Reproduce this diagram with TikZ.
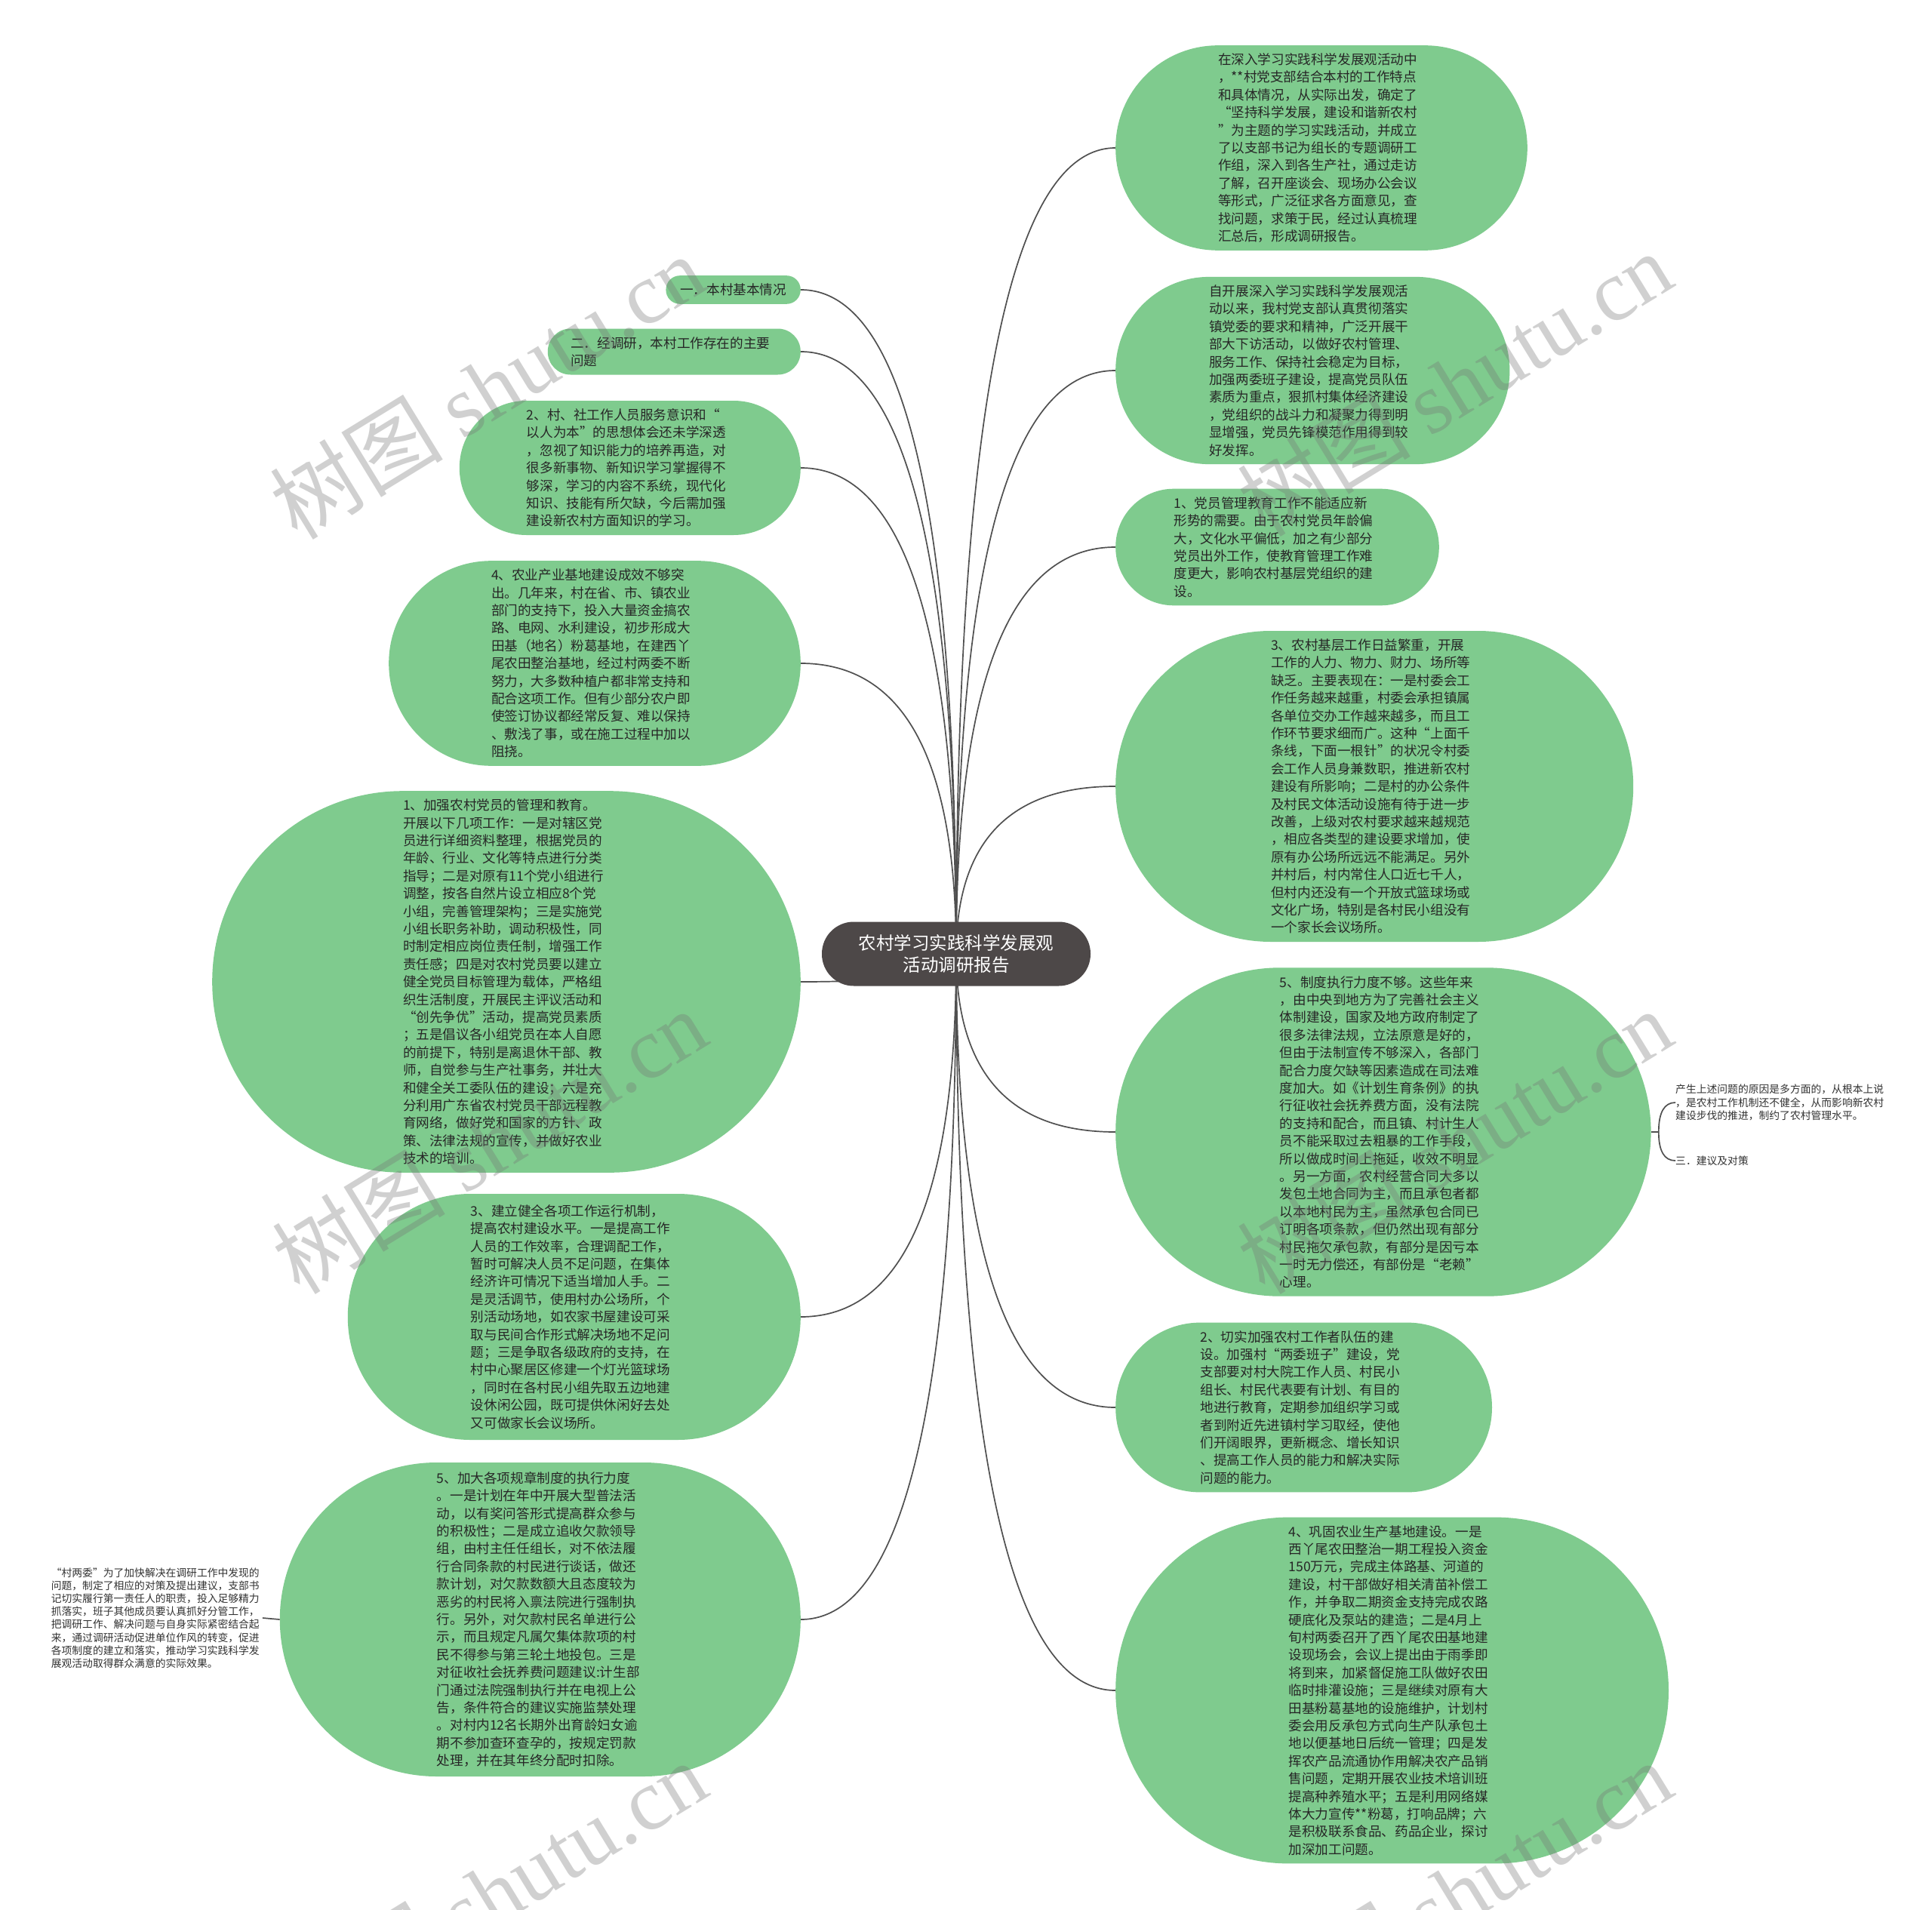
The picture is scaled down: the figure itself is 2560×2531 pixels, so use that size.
\documentclass[tikz,border=0pt]{standalone}
\usepackage{fontspec}
\setmainfont{Noto Sans CJK SC}
\newfontfamily\cjk{Noto Sans CJK SC}
\newfontfamily\wmserif{Liberation Serif}
\usetikzlibrary{calc,backgrounds}
\definecolor{nodegreen}{RGB}{127,203,142}
\definecolor{rootgray}{RGB}{77,72,72}
\definecolor{linegray}{RGB}{80,80,80}
\definecolor{txt}{RGB}{38,38,38}
\definecolor{notetxt}{RGB}{50,50,50}
\tikzset{
  leaf/.style={rectangle, fill=nodegreen, draw=none, rounded corners=#1pt-0.3pt,
    inner xsep=#1pt, inner ysep=0pt, minimum height=2*#1pt,
    text=txt, font=\cjk\fontsize{17.6}{23.4}\selectfont, align=left, text width=274pt},
  leafnat/.style={rectangle, fill=nodegreen, draw=none, rounded corners=#1pt-0.3pt,
    inner xsep=#1pt, inner ysep=0pt, minimum height=2*#1pt,
    text=txt, font=\cjk\fontsize{17.6}{23.4}\selectfont, align=left},
  rootnode/.style={rectangle, fill=rootgray, draw=none, rounded corners=42.2pt,
    inner sep=0pt, minimum height=85pt, minimum width=356pt,
    text=white, font=\cjk\fontsize{23.5}{29}\selectfont, align=center},
  note/.style={draw=none, inner sep=0pt, text=notetxt, font=\cjk\fontsize{13.8}{17.2}\selectfont, align=left},
  conn/.style={draw=linegray, line width=1.7pt},
  wmark/.style={rotate=31.5, text=black!55, text opacity=0.33, inner sep=0pt,
    font=\cjk\fontsize{115}{115}\selectfont}
}
\newcommand\mmconn[2]{\draw[conn] (#1) .. controls ($(#1)!0.667!(#1 |- #2)$) and ($(#2)!0.667!(#1 |- #2)$) .. (#2);}
\begin{document}
\begin{tikzpicture}[x=1pt,y=-1pt]
\useasboundingbox (0,0) rectangle (2560,2531);

% root
\node[rootnode] (root) at (1267,1264) {农村学习实践科学发展观\\活动调研报告};

% right side
\node[leaf=135.8, anchor=west] (R1) at (1478,196) {在深入学习实践科学发展观活动中\\，**村党支部结合本村的工作特点\\和具体情况，从实际出发，确定了\\“坚持科学发展，建设和谐新农村\\”为主题的学习实践活动，并成立\\了以支部书记为组长的专题调研工\\作组，深入到各生产社，通过走访\\了解，召开座谈会、现场办公会议\\等形式，广泛征求各方面意见，查\\找问题，求策于民，经过认真梳理\\汇总后，形成调研报告。};
\node[leaf=124.1, anchor=west] (R2) at (1478,491) {自开展深入学习实践科学发展观活\\动以来，我村党支部认真贯彻落实\\镇党委的要求和精神，广泛开展干\\部大下访活动，以做好农村管理、\\服务工作、保持社会稳定为目标，\\加强两委班子建设，提高党员队伍\\素质为重点，狠抓村集体经济建设\\，党组织的战斗力和凝聚力得到明\\显增强，党员先锋模范作用得到较\\好发挥。};
\node[leaf=77.3, anchor=west] (R3) at (1478,725) {1、党员管理教育工作不能适应新\\形势的需要。由于农村党员年龄偏\\大，文化水平偏低，加之有少部分\\党员出外工作，使教育管理工作难\\度更大，影响农村基层党组织的建\\设。};
\node[leaf=206, anchor=west] (R4) at (1478,1042) {3、农村基层工作日益繁重，开展\\工作的人力、物力、财力、场所等\\缺乏。主要表现在：一是村委会工\\作任务越来越重，村委会承担镇属\\各单位交办工作越来越多，而且工\\作环节要求细而广。这种“上面千\\条线，下面一根针”的状况令村委\\会工作人员身兼数职，推进新农村\\建设有所影响；二是村的办公条件\\及村民文体活动设施有待于进一步\\改善，上级对农村要求越来越规范\\，相应各类型的建设要求增加，使\\原有办公场所远远不能满足。另外\\并村后，村内常住人口近七千人，\\但村内还没有一个开放式篮球场或\\文化广场，特别是各村民小组没有\\一个家长会议场所。};
\node[leaf=217.7, anchor=west] (R5) at (1478,1500) {5、制度执行力度不够。这些年来\\，由中央到地方为了完善社会主义\\体制建设，国家及地方政府制定了\\很多法律法规，立法原意是好的，\\但由于法制宣传不够深入，各部门\\配合力度欠缺等因素造成在司法难\\度加大。如《计划生育条例》的执\\行征收社会抚养费方面，没有法院\\的支持和配合，而且镇、村计生人\\员不能采取过去粗暴的工作手段，\\所以做成时间上拖延，收效不明显\\。另一方面，农村经营合同大多以\\发包土地合同为主，而且承包者都\\以本地村民为主，虽然承包合同已\\订明各项条款，但仍然出现有部分\\村民拖欠承包款，有部分是因亏本\\一时无力偿还，有部份是“老赖”\\心理。};
\node[leaf=112.4, anchor=west] (R6) at (1478,1865) {2、切实加强农村工作者队伍的建\\设。加强村“两委班子”建设，党\\支部要对村大院工作人员、村民小\\组长、村民代表要有计划、有目的\\地进行教育，定期参加组织学习或\\者到附近先进镇村学习取经，使他\\们开阔眼界，更新概念、增长知识\\、提高工作人员的能力和解决实际\\问题的能力。};
\node[leaf=229.4, anchor=west] (R7) at (1478,2240) {4、巩固农业生产基地建设。一是\\西丫尾农田整治一期工程投入资金\\150万元，完成主体路基、河道的\\建设，村干部做好相关清苗补偿工\\作，并争取二期资金支持完成农路\\硬底化及泵站的建造；二是4月上\\旬村两委召开了西丫尾农田基地建\\设现场会，会议上提出由于雨季即\\将到来，加紧督促施工队做好农田\\临时排灌设施；三是继续对原有大\\田基粉葛基地的设施维护，计划村\\委会用反承包方式向生产队承包土\\地以便基地日后统一管理；四是发\\挥农产品流通协作用解决农产品销\\售问题，定期开展农业技术培训班\\提高种养殖水平；五是利用网络媒\\体大力宣传**粉葛，打响品牌；六\\是积极联系食品、药品企业，探讨\\加深加工问题。};

% notes beside R5
\node[note, anchor=west, text width=280pt] (Ri1) at (2220,1461) {产生上述问题的原因是多方面的，从根本上说\\，是农村工作机制还不健全，从而影响新农村\\建设步伐的推进，制约了农村管理水平。};
\node[note, anchor=west] (Ri2) at (2220,1538) {三．建议及对策};

% left side
\node[leafnat=18.8, anchor=east] (La) at (1061,384) {一．本村基本情况};
\node[leaf=30.5, anchor=east] (Lb) at (1061,466) {二．经调研，本村工作存在的主要\\问题};
\node[leaf=89, anchor=east] (Lc) at (1061,620) {2、村、社工作人员服务意识和“\\以人为本”的思想体会还未学深透\\，忽视了知识能力的培养再造，对\\很多新事物、新知识学习掌握得不\\够深，学习的内容不系统，现代化\\知识、技能有所欠缺，今后需加强\\建设新农村方面知识的学习。};
\node[leaf=135.8, anchor=east] (Ld) at (1061,879) {4、农业产业基地建设成效不够突\\出。几年来，村在省、市、镇农业\\部门的支持下，投入大量资金搞农\\路、电网、水利建设，初步形成大\\田基（地名）粉葛基地，在建西丫\\尾农田整治基地，经过村两委不断\\努力，大多数种植户都非常支持和\\配合这项工作。但有少部分农户即\\使签订协议都经常反复、难以保持\\、敷浅了事，或在施工过程中加以\\阻挠。};
\node[leaf=252.8, anchor=east] (Le) at (1061,1301) {1、加强农村党员的管理和教育。\\开展以下几项工作：一是对辖区党\\员进行详细资料整理，根据党员的\\年龄、行业、文化等特点进行分类\\指导；二是对原有11个党小组进行\\调整，按各自然片设立相应8个党\\小组，完善管理架构；三是实施党\\小组长职务补助，调动积极性，同\\时制定相应岗位责任制，增强工作\\责任感；四是对农村党员要以建立\\健全党员目标管理为载体，严格组\\织生活制度，开展民主评议活动和\\“创先争优”活动，提高党员素质\\；五是倡议各小组党员在本人自愿\\的前提下，特别是离退休干部、教\\师，自觉参与生产社事务，并壮大\\和健全关工委队伍的建设；六是充\\分利用广东省农村党员干部远程教\\育网络，做好党和国家的方针、政\\策、法律法规的宣传，并做好农业\\技术的培训。};
\node[leaf=163, anchor=east] (Lf) at (1061,1745) {3、建立健全各项工作运行机制，\\提高农村建设水平。一是提高工作\\人员的工作效率，合理调配工作，\\暂时可解决人员不足问题，在集体\\经济许可情况下适当增加人手。二\\是灵活调节，使用村办公场所，个\\别活动场地，如农家书屋建设可采\\取与民间合作形式解决场地不足问\\题；三是争取各级政府的支持，在\\村中心聚居区修建一个灯光篮球场\\，同时在各村民小组先取五边地建\\设休闲公园，既可提供休闲好去处\\又可做家长会议场所。};
\node[leaf=208, anchor=east] (Lg) at (1061,2146) {5、加大各项规章制度的执行力度\\。一是计划在年中开展大型普法活\\动，以有奖问答形式提高群众参与\\的积极性；二是成立追收欠款领导\\组，由村主任任组长，对不依法履\\行合同条款的村民进行谈话，做还\\款计划，对欠款数额大且态度较为\\恶劣的村民将入禀法院进行强制执\\行。另外，对欠款村民名单进行公\\示，而且规定凡属欠集体款项的村\\民不得参与第三轮土地投包。三是\\对征收社会抚养费问题建议:计生部\\门通过法院强制执行并在电视上公\\告，条件符合的建议实施监禁处理\\。对村内12名长期外出育龄妇女逾\\期不参加查环查孕的，按规定罚款\\处理，并在其年终分配时扣除。};

\node[note, anchor=east, text width=280pt] (Lh) at (348,2144) {“村两委”为了加快解决在调研工作中发现的\\问题，制定了相应的对策及提出建议，支部书\\记切实履行第一责任人的职责，投入足够精力\\抓落实，班子其他成员要认真抓好分管工作，\\把调研工作、解决问题与自身实际紧密结合起\\来，通过调研活动促进单位作风的转变，促进\\各项制度的建立和落实，推动学习实践科学发\\展观活动取得群众满意的实际效果。};

% connectors
\begin{pgfonlayer}{background}
\fill[white] (0,0) rectangle (2560,2531);
\mmconn{root.center}{R1.west}
\mmconn{root.center}{R2.west}
\mmconn{root.center}{R3.west}
\mmconn{root.center}{R4.west}
\mmconn{root.center}{R5.west}
\mmconn{root.center}{R6.west}
\mmconn{root.center}{R7.west}
\mmconn{root.center}{La.east}
\mmconn{root.center}{Lb.east}
\mmconn{root.center}{Lc.east}
\mmconn{root.center}{Ld.east}
\mmconn{root.center}{Le.east}
\mmconn{root.center}{Lf.east}
\mmconn{root.center}{Lg.east}
\end{pgfonlayer}
\draw[conn] (R5.east) -- ++(10,0) coordinate (R5j);
\mmconn{R5j}{Ri1.west}
\mmconn{R5j}{Ri2.west}
\draw[conn] (Lg.west) -- (Lh.east);

% watermarks
\node[wmark] (wm1) at (645,512) {树图 {\wmserif shutu.cn}};
\node[wmark] (wm2) at (1927,508) {树图 {\wmserif shutu.cn}};
\node[wmark] (wm3) at (648,1512) {树图 {\wmserif shutu.cn}};
\node[wmark] (wm4) at (1927,1512) {树图 {\wmserif shutu.cn}};
\node[wmark] (wm5) at (648,2508) {树图 {\wmserif shutu.cn}};
\node[wmark] (wm6) at (1927,2508) {树图 {\wmserif shutu.cn}};
\end{tikzpicture}
\end{document}
